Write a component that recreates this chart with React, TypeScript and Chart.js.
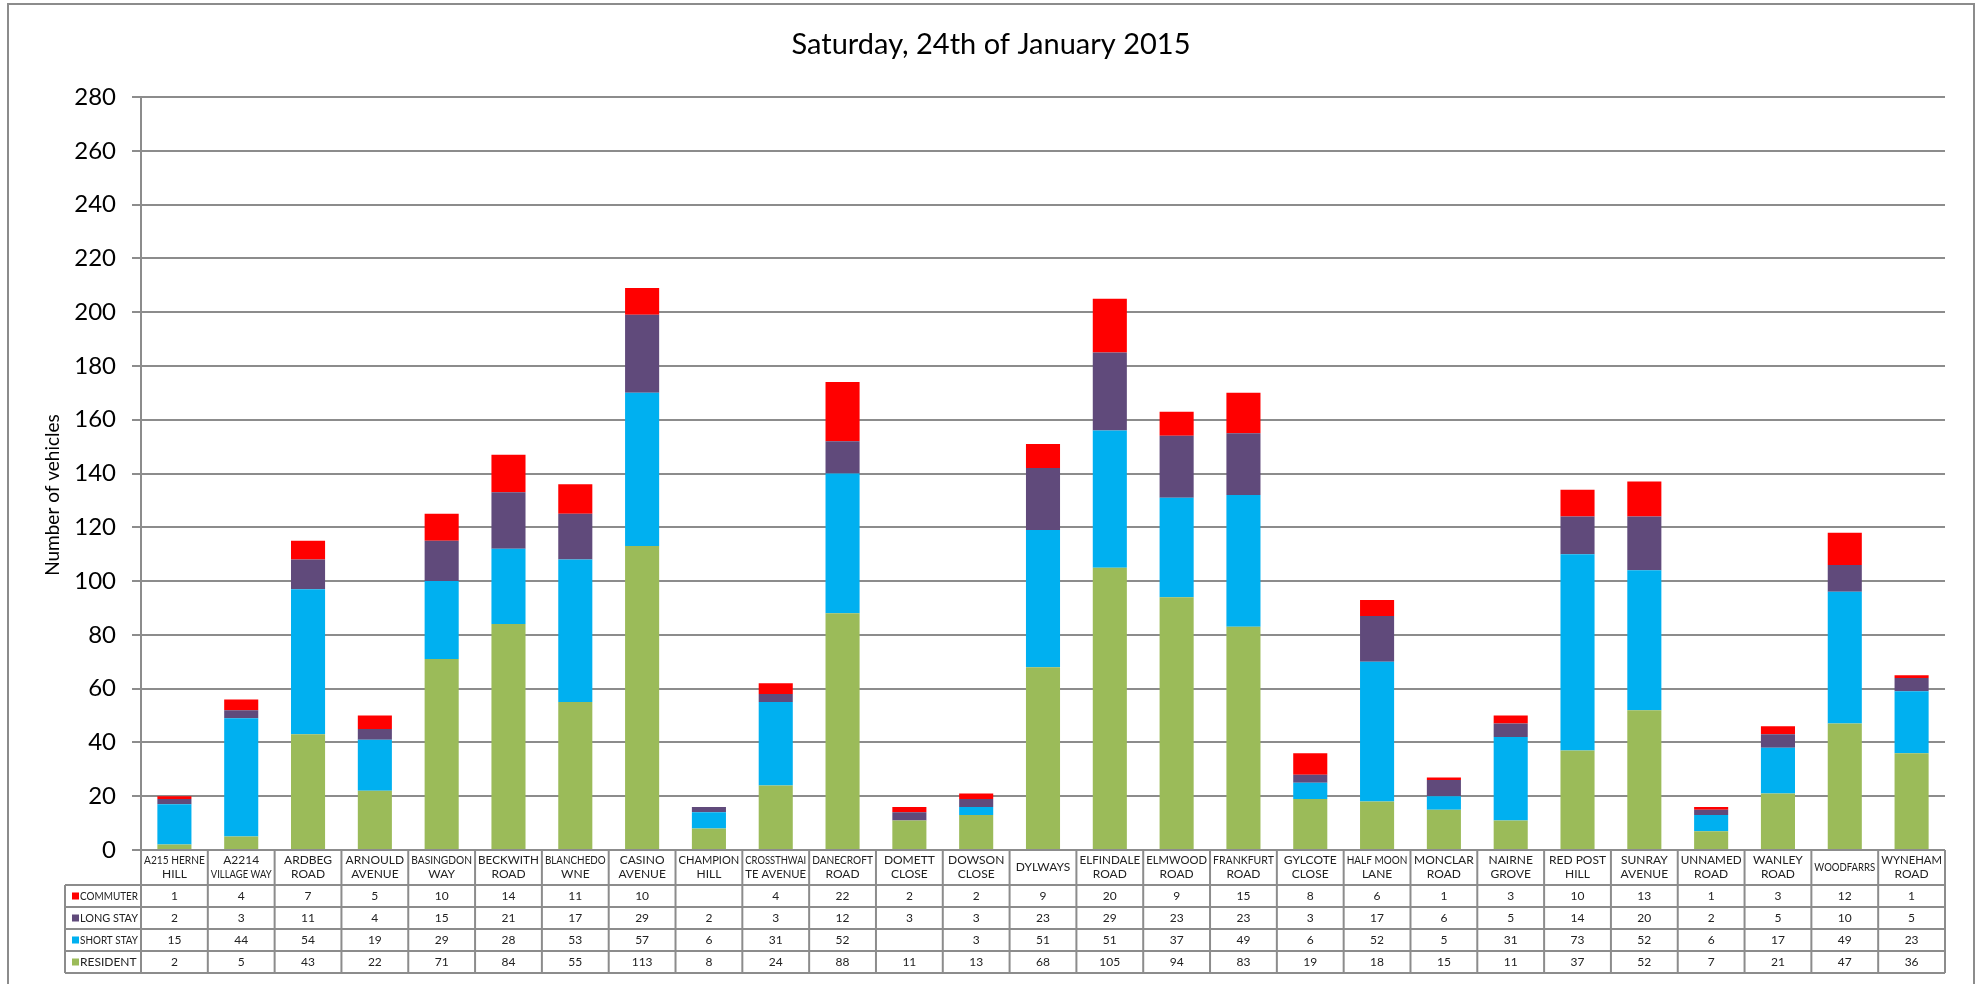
import React, { useEffect, useRef } from "react";
import { Chart, registerables } from "chart.js";

Chart.register(...registerables);

const TITLE = "Saturday, 24th of January 2015";
const Y_TITLE = "Number of vehicles";

const categories = [
  "A215 HERNE HILL", "A2214 VILLAGE WAY", "ARDBEG ROAD", "ARNOULD AVENUE", "BASINGDON WAY",
  "BECKWITH ROAD", "BLANCHEDOWNE", "CASINO AVENUE", "CHAMPION HILL", "CROSSTHWAITE AVENUE",
  "DANECROFT ROAD", "DOMETT CLOSE", "DOWSON CLOSE", "DYLWAYS", "ELFINDALE ROAD",
  "ELMWOOD ROAD", "FRANKFURT ROAD", "GYLCOTE CLOSE", "HALF MOON LANE", "MONCLAR ROAD",
  "NAIRNE GROVE", "RED POST HILL", "SUNRAY AVENUE", "UNNAMED ROAD", "WANLEY ROAD",
  "WOODFARRS", "WYNEHAM ROAD",
];

const headerLabels: string[][] = [
  ["A215 HERNE", "HILL"], ["A2214", "VILLAGE WAY"], ["ARDBEG", "ROAD"], ["ARNOULD", "AVENUE"],
  ["BASINGDON", "WAY"], ["BECKWITH", "ROAD"], ["BLANCHEDO", "WNE"], ["CASINO", "AVENUE"],
  ["CHAMPION", "HILL"], ["CROSSTHWAI", "TE AVENUE"], ["DANECROFT", "ROAD"], ["DOMETT", "CLOSE"],
  ["DOWSON", "CLOSE"], ["DYLWAYS"], ["ELFINDALE", "ROAD"], ["ELMWOOD", "ROAD"],
  ["FRANKFURT", "ROAD"], ["GYLCOTE", "CLOSE"], ["HALF MOON", "LANE"], ["MONCLAR", "ROAD"],
  ["NAIRNE", "GROVE"], ["RED POST", "HILL"], ["SUNRAY", "AVENUE"], ["UNNAMED", "ROAD"],
  ["WANLEY", "ROAD"], ["WOODFARRS"], ["WYNEHAM", "ROAD"],
];

const resident = [2, 5, 43, 22, 71, 84, 55, 113, 8, 24, 88, 11, 13, 68, 105, 94, 83, 19, 18, 15, 11, 37, 52, 7, 21, 47, 36];
const shortStay = [15, 44, 54, 19, 29, 28, 53, 57, 6, 31, 52, null, 3, 51, 51, 37, 49, 6, 52, 5, 31, 73, 52, 6, 17, 49, 23];
const longStay = [2, 3, 11, 4, 15, 21, 17, 29, 2, 3, 12, 3, 3, 23, 29, 23, 23, 3, 17, 6, 5, 14, 20, 2, 5, 10, 5];
const commuter = [1, 4, 7, 5, 10, 14, 11, 10, null, 4, 22, 2, 2, 9, 20, 9, 15, 8, 6, 1, 3, 10, 13, 1, 3, 12, 1];

const yTicks = { min: 0, max: 280, step: 20 };

const COLORS = {
  commuter: "#FF0000",
  longStay: "#604A7B",
  shortStay: "#00B0F0",
  resident: "#9BBB59",
};

const FONT = "Lato, 'Open Sans', sans-serif";
const GRID = "#8c8c8c";

// table rows top-to-bottom
const tableRows = [
  { label: "COMMUTER", data: commuter, color: COLORS.commuter },
  { label: "LONG STAY", data: longStay, color: COLORS.longStay },
  { label: "SHORT STAY", data: shortStay, color: COLORS.shortStay },
  { label: "RESIDENT", data: resident, color: COLORS.resident },
];

const decorPlugin = {
  id: "decor",
  beforeDraw(chart: any) {
    const ctx = chart.ctx;
    ctx.save();
    ctx.fillStyle = "#ffffff";
    ctx.fillRect(0, 0, chart.width, chart.height);
    ctx.strokeStyle = "#8c8c8c";
    ctx.lineWidth = 2;
    ctx.strokeRect(8, 4, 1966, 1100);
    ctx.restore();
  },
  afterDraw(chart: any) {
    const ctx = chart.ctx;
    const area = chart.chartArea;
    const xs = chart.scales.x;
    const n = categories.length;
    const colW = (area.right - area.left) / n;
    ctx.save();

    // Title
    ctx.fillStyle = "#000";
    ctx.font = `29px ${FONT}`;
    ctx.textAlign = "center";
    ctx.textBaseline = "middle";
    ctx.fillText(TITLE, 991, 45);

    // Y title
    ctx.save();
    ctx.translate(53, 495);
    ctx.rotate(-Math.PI / 2);
    ctx.font = `19px ${FONT}`;
    ctx.fillText(Y_TITLE, 0, 0);
    ctx.restore();

    // Data table
    const top = area.bottom;
    const headerH = 35;
    const rowH = 22;
    const legendLeft = 65;
    const tableRight = area.right;
    const bottom = top + headerH + rowH * tableRows.length;

    ctx.strokeStyle = GRID;
    ctx.lineWidth = 2;
    ctx.beginPath();
    ctx.moveTo(area.left, top);
    ctx.lineTo(tableRight, top);
    for (let r = 0; r <= tableRows.length; r++) {
      const y = top + headerH + r * rowH;
      ctx.moveTo(legendLeft, y);
      ctx.lineTo(tableRight, y);
    }
    for (let i = 0; i <= n; i++) {
      const x = i < n ? xs.getPixelForValue(i) - colW / 2 : xs.getPixelForValue(n - 1) + colW / 2;
      ctx.moveTo(x, top);
      ctx.lineTo(x, bottom);
    }
    ctx.moveTo(legendLeft, top + headerH);
    ctx.lineTo(legendLeft, bottom);
    ctx.stroke();

    // header text
    ctx.fillStyle = "#222";
    ctx.font = `12px ${FONT}`;
    ctx.textAlign = "center";
    ctx.textBaseline = "middle";
    const maxW = colW - 6;
    for (let i = 0; i < n; i++) {
      const cx = xs.getPixelForValue(i);
      const lines = headerLabels[i];
      if (lines.length === 1) {
        ctx.fillText(lines[0], cx, top + headerH / 2, maxW);
      } else {
        ctx.fillText(lines[0], cx, top + headerH / 2 - 7, maxW);
        ctx.fillText(lines[1], cx, top + headerH / 2 + 7, maxW);
      }
    }

    // rows
    tableRows.forEach((row, r) => {
      const cy = top + headerH + r * rowH + rowH / 2;
      ctx.fillStyle = row.color;
      ctx.fillRect(legendLeft + 7, cy - 3.5, 7, 7);
      ctx.fillStyle = "#222";
      ctx.textAlign = "left";
      ctx.fillText(row.label, legendLeft + 15, cy, area.left - legendLeft - 18);
      ctx.textAlign = "center";
      for (let i = 0; i < n; i++) {
        const v = row.data[i];
        if (v !== null && v !== undefined) {
          ctx.fillText(String(v), xs.getPixelForValue(i), cy);
        }
      }
    });

    ctx.restore();
  },
};

export default function App() {
  const ref = useRef<HTMLCanvasElement | null>(null);

  useEffect(() => {
    if (!ref.current) return;
    const chart = new Chart(ref.current, {
      type: "bar",
      data: {
        labels: categories,
        datasets: [
          { label: "RESIDENT", data: resident, backgroundColor: COLORS.resident, stack: "s" },
          { label: "SHORT STAY", data: shortStay as any, backgroundColor: COLORS.shortStay, stack: "s" },
          { label: "LONG STAY", data: longStay, backgroundColor: COLORS.longStay, stack: "s" },
          { label: "COMMUTER", data: commuter as any, backgroundColor: COLORS.commuter, stack: "s" },
        ],
      },
      options: {
        responsive: false,
        animation: false,
        maintainAspectRatio: false,
        layout: { padding: { left: 0, top: 97, right: 34, bottom: 134 } },
        datasets: { bar: { categoryPercentage: 1, barPercentage: 0.51, borderWidth: 0 } },
        plugins: {
          legend: { display: false },
          title: { display: false },
          tooltip: { enabled: false },
        },
        scales: {
          x: {
            stacked: true,
            display: false,
            offset: true,
          },
          y: {
            stacked: true,
            min: yTicks.min,
            max: yTicks.max,
            afterFit: (s: any) => {
              s.width = 141;
            },
            ticks: {
              stepSize: yTicks.step,
              padding: 16,
              color: "#000",
              font: { family: FONT, size: 24 },
            },
            grid: {
              color: GRID,
              lineWidth: 2,
              tickLength: 9,
              drawTicks: true,
            },
            border: { display: true, color: GRID, width: 2 },
          },
        },
      },
      plugins: [decorPlugin],
    });
    return () => chart.destroy();
  }, []);

  return (
    <div style={{ position: "fixed", left: 0, top: 0, width: 1979, height: 984, background: "#fff" }}>
      <canvas ref={ref} width={1979} height={984} style={{ display: "block", width: 1979, height: 984 }} />
    </div>
  );
}
